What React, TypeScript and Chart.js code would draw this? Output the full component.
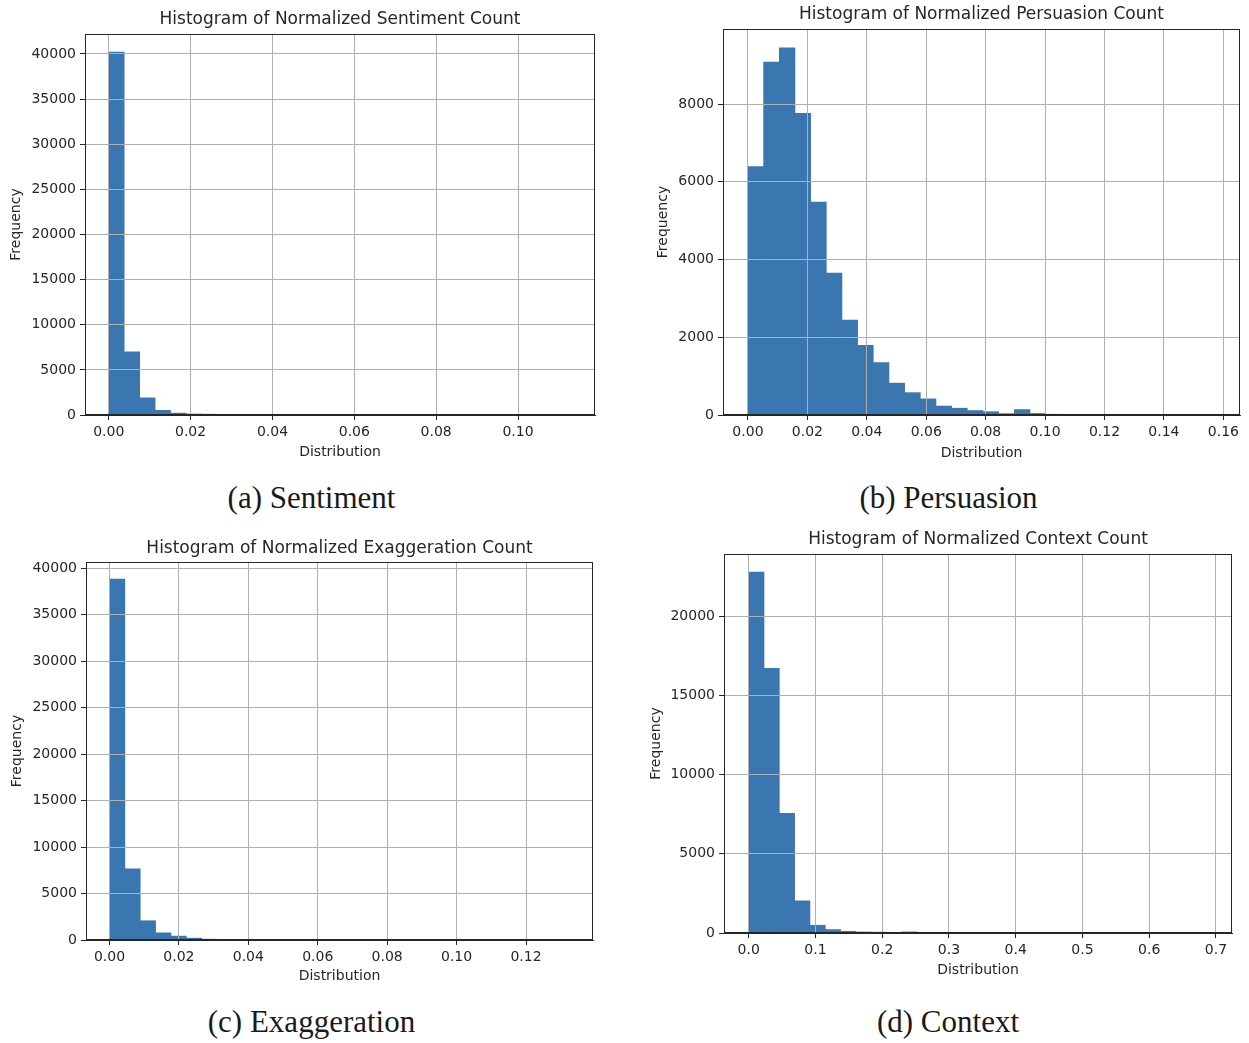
import React, { useEffect, useRef } from 'react';
import { Chart, registerables } from 'chart.js';

Chart.register(...registerables);
Chart.defaults.font.family = "'DejaVu Sans', sans-serif";

// ---------- data ----------
const sentimentCounts = [40220, 6990, 1900, 520, 210, 110, 90, 45, 25, 18, 12, 8, 6, 4, 3, 3, 2, 1, 1, 1, 1, 0, 1, 0, 1, 0, 0, 0, 0, 1];
const persuasionCounts = [6390, 9080, 9450, 7760, 5480, 3650, 2440, 1790, 1350, 820, 575, 415, 230, 175, 115, 85, 35, 140, 40, 20, 15, 12, 6, 4, 3, 2, 1, 1, 0, 1];
const exaggerationCounts = [38800, 7650, 2070, 770, 420, 200, 90, 70, 60, 20, 12, 8, 6, 4, 3, 2, 2, 1, 1, 1, 0, 1, 0, 0, 1, 0, 0, 0, 0, 1];
const contextCounts = [22790, 16700, 7560, 2030, 490, 215, 110, 65, 55, 10, 70, 8, 5, 3, 2, 2, 1, 1, 1, 0, 1, 0, 0, 1, 0, 0, 0, 0, 0, 1];

const sentimentBinWidth = 0.003776;
const persuasionBinWidth = 0.005273;
const exaggerationBinWidth = 0.004426;
const contextBinWidth = 0.02294;

const sentimentXTicks = [0, 0.02, 0.04, 0.06, 0.08, 0.1];
const persuasionXTicks = [0, 0.02, 0.04, 0.06, 0.08, 0.1, 0.12, 0.14, 0.16];
const exaggerationXTicks = [0, 0.02, 0.04, 0.06, 0.08, 0.1, 0.12];
const contextXTicks = [0, 0.1, 0.2, 0.3, 0.4, 0.5, 0.6, 0.7];

const sentimentYTicks = [0, 5000, 10000, 15000, 20000, 25000, 30000, 35000, 40000];
const persuasionYTicks = [0, 2000, 4000, 6000, 8000];
const exaggerationYTicks = [0, 5000, 10000, 15000, 20000, 25000, 30000, 35000, 40000];
const contextYTicks = [0, 5000, 10000, 15000, 20000];

const titles = [
  'Histogram of Normalized Sentiment Count',
  'Histogram of Normalized Persuasion Count',
  'Histogram of Normalized Exaggeration Count',
  'Histogram of Normalized Context Count',
];
const captions = ['(a) Sentiment', '(b) Persuasion', '(c) Exaggeration', '(d) Context'];
const xAxisLabel = 'Distribution';
const yAxisLabel = 'Frequency';

// ---------- styling / layout ----------
const BAR = '#3a76af';
const GRID = '#b0b0b0';
const INK = '#262626';

type PanelSpec = {
  counts: number[];
  binWidth: number;
  xTicks: number[];
  yTicks: number[];
  xDec: number;
  title: string;
  xMin: number;
  xMax: number;
  yMax: number;
  left: number;
  top: number;
  width: number;
  height: number;
  yAxisWidth: number;
  xAxisHeight: number;
  padRight: number;
  titlePadTop: number;
  titlePadBottom: number;
  xTitlePadBottom: number;
  yTitlePadTop: number;
};

const panels: PanelSpec[] = [
  {
    counts: sentimentCounts, binWidth: sentimentBinWidth, xTicks: sentimentXTicks, yTicks: sentimentYTicks, xDec: 2,
    title: titles[0], xMin: -0.0058, xMax: 0.1188, yMax: 42216,
    left: 0, top: 0, width: 610, height: 470, yAxisWidth: 85, xAxisHeight: 55, padRight: 15,
    titlePadTop: 9, titlePadBottom: 4.6, xTitlePadBottom: 9.5, yTitlePadTop: 8,
  },
  {
    counts: persuasionCounts, binWidth: persuasionBinWidth, xTicks: persuasionXTicks, yTicks: persuasionYTicks, xDec: 2,
    title: titles[1], xMin: -0.0084, xMax: 0.1656, yMax: 9933,
    left: 620, top: 0, width: 629, height: 470, yAxisWidth: 103, xAxisHeight: 55, padRight: 9,
    titlePadTop: 4, titlePadBottom: 4.6, xTitlePadBottom: 8.5, yTitlePadTop: 35,
  },
  {
    counts: exaggerationCounts, binWidth: exaggerationBinWidth, xTicks: exaggerationXTicks, yTicks: exaggerationYTicks, xDec: 2,
    title: titles[2], xMin: -0.00677, xMax: 0.1393, yMax: 40646,
    left: 0, top: 530, width: 610, height: 460, yAxisWidth: 86, xAxisHeight: 50, padRight: 17,
    titlePadTop: 8.4, titlePadBottom: 3.2, xTitlePadBottom: 5.5, yTitlePadTop: 9,
  },
  {
    counts: contextCounts, binWidth: contextBinWidth, xTicks: contextXTicks, yTicks: contextYTicks, xDec: 1,
    title: titles[3], xMin: -0.037, xMax: 0.724, yMax: 23924,
    left: 620, top: 520, width: 629, height: 470, yAxisWidth: 104, xAxisHeight: 57, padRight: 17,
    titlePadTop: 9, titlePadBottom: 4.6, xTitlePadBottom: 11.5, yTitlePadTop: 28,
  },
];

const captionSpecs = [
  { cx: 311.5, cy: 500 },
  { cx: 948.5, cy: 500 },
  { cx: 311.5, cy: 1024 },
  { cx: 948, cy: 1024 },
];

const framePlugin = {
  id: 'frame',
  afterDraw(chart: any) {
    const { ctx, chartArea } = chart;
    const l = Math.round(chartArea.left) + 0.5;
    const t = Math.round(chartArea.top) + 0.5;
    const r = Math.round(chartArea.right) - 0.5;
    const b = Math.round(chartArea.bottom) - 0.5;
    ctx.save();
    ctx.strokeStyle = INK;
    ctx.lineWidth = 1;
    ctx.strokeRect(l, t, r - l, b - t);
    ctx.restore();
  },
};

function Panel({ spec }: { spec: PanelSpec }) {
  const ref = useRef<HTMLCanvasElement | null>(null);
  useEffect(() => {
    if (!ref.current) return;
    const data = spec.counts.map((c, i) => ({ x: (i + 0.5) * spec.binWidth, y: c }));
    const chart = new Chart(ref.current, {
      type: 'bar',
      data: {
        datasets: [
          {
            data: data as any,
            backgroundColor: BAR,
            borderWidth: 0,
            barPercentage: 1,
            categoryPercentage: 1,
          },
        ],
      },
      plugins: [framePlugin],
      options: {
        responsive: false,
        animation: false,
        events: [],
        layout: { padding: { left: 0, top: 0, right: spec.padRight, bottom: 0 } },
        plugins: {
          legend: { display: false },
          tooltip: { enabled: false },
          title: {
            display: true,
            fullSize: false,
            text: spec.title,
            color: INK,
            font: { size: 17, weight: 'normal' },
            padding: { top: spec.titlePadTop, bottom: spec.titlePadBottom },
          } as any,
        },
        scales: {
          x: {
            type: 'linear',
            min: spec.xMin,
            max: spec.xMax,
            offset: false,
            afterBuildTicks: (s: any) => {
              s.ticks = spec.xTicks.map((v) => ({ value: v }));
            },
            afterFit: (s: any) => {
              s.height = spec.xAxisHeight;
              s.paddingLeft = 0;
              s.paddingRight = 0;
            },
            grid: { color: GRID, lineWidth: 1, z: 1, drawTicks: true, tickLength: 5, tickColor: INK, offset: false },
            border: { display: true, color: INK, width: 1, z: 2 },
            ticks: {
              color: INK,
              font: { size: 14 },
              padding: 3.5,
              maxRotation: 0,
              autoSkip: false,
              callback: (v: any) => Number(v).toFixed(spec.xDec),
            },
            title: {
              display: true,
              text: xAxisLabel,
              color: INK,
              font: { size: 14 },
              padding: { top: 0, bottom: spec.xTitlePadBottom },
            },
          } as any,
          y: {
            type: 'linear',
            min: 0,
            max: spec.yMax,
            afterBuildTicks: (s: any) => {
              s.ticks = spec.yTicks.map((v) => ({ value: v }));
            },
            afterFit: (s: any) => {
              s.width = spec.yAxisWidth;
              s.paddingTop = 0;
              s.paddingBottom = 0;
            },
            grid: { color: GRID, lineWidth: 1, z: 1, drawTicks: true, tickLength: 5, tickColor: INK },
            border: { display: true, color: INK, width: 1, z: 2 },
            ticks: {
              color: INK,
              font: { size: 14 },
              padding: 4,
              autoSkip: false,
              callback: (v: any) => String(Math.round(Number(v))),
            },
            title: {
              display: true,
              text: yAxisLabel,
              color: INK,
              font: { size: 14 },
              padding: { top: spec.yTitlePadTop, bottom: 0 },
            },
          } as any,
        },
      },
    });
    return () => chart.destroy();
  }, [spec]);
  return (
    <canvas
      ref={ref}
      width={spec.width}
      height={spec.height}
      style={{ position: 'absolute', left: spec.left, top: spec.top, width: spec.width, height: spec.height }}
    />
  );
}

export default function App() {
  const capSize = 31;
  return (
    <div style={{ position: 'absolute', left: 0, top: 0, width: 1249, height: 1043, background: '#ffffff', overflow: 'hidden' }}>
      {panels.map((p, i) => (
        <Panel key={i} spec={p} />
      ))}
      {captions.map((c, i) => (
        <div
          key={'cap' + i}
          style={{
            position: 'absolute',
            left: captionSpecs[i].cx - 250,
            width: 500,
            top: captionSpecs[i].cy - 18,
            textAlign: 'center',
            fontFamily: "'Liberation Serif', serif",
            fontSize: capSize,
            lineHeight: capSize + 'px',
            color: '#1a1a1a',
            whiteSpace: 'nowrap',
          }}
        >
          {c}
        </div>
      ))}
    </div>
  );
}
